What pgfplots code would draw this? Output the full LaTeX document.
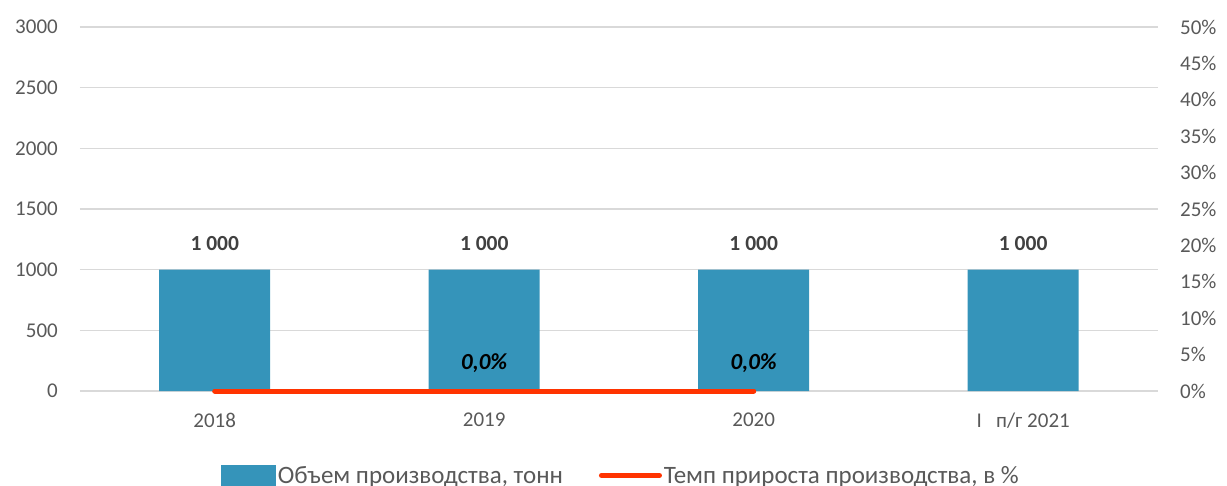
\documentclass[border=0pt]{standalone}
\usepackage{pgfplots}
\pgfplotsset{compat=1.18}
\usepackage{fontspec}
\setmainfont{Carlito}
\definecolor{barblue}{HTML}{3594BA}
\definecolor{linered}{HTML}{FF3300}
\definecolor{ticktext}{HTML}{595959}
\definecolor{labtext}{HTML}{404040}
\definecolor{gridc}{HTML}{D9D9D9}
\begin{document}
\begin{tikzpicture}
\path[use as bounding box] (0,0) rectangle (1227pt,485pt);
\pgfplotsset{
  common/.style={
    at={(80pt,94pt)}, anchor=south west,
    scale only axis, width=1078pt, height=364pt,
    xmin=-0.5, xmax=3.5,
    axis line style={draw=none},
    major tick length=0pt,
    /pgf/number format/assume math mode=true,
    tick label style={font=\fontsize{21}{25}\selectfont, text=ticktext, inner sep=0pt},
  }
}
\begin{axis}[common,
  ymin=0, ymax=3000, ytick={0,500,...,3000},
  ymajorgrids, grid style={gridc, line width=1.5pt},
  yticklabel style={xshift=-22pt, /pgf/number format/1000 sep={}},
  xtick={0,1,2,3},
  xticklabels={2018,2019,2020,{I\ \ \ п/г 2021}},
  xticklabel style={yshift=-22pt},
  ybar, bar width=111pt, bar shift=0pt,
  nodes near coords,
  every node near coord/.append style={font=\fontsize{21.5}{25}\selectfont\bfseries, text=labtext, anchor=center, yshift=26pt, /pgf/number format/1000 sep={\ }},
]
\addplot[fill=barblue, draw=none] coordinates {(0,1000) (1,1000) (2,1000) (3,1000)};
\end{axis}
\begin{axis}[common,
  ymin=0, ymax=50, ytick={0,5,...,50},
  axis y line*=right, axis x line=none,
  yticklabel={\pgfmathprintnumber{\tick}\%},
  yticklabel style={xshift=22pt},
  clip=false,
  legend columns=2,
  legend style={draw=none, fill=none, at={(0.502,-0.232)}, anchor=center,
    font=\fontsize{25}{29}\selectfont, text=ticktext,
    /tikz/every even column/.append style={column sep=34pt},
    inner sep=0pt, cells={anchor=west}},
  nodes near coords,
  point meta=explicit symbolic,
  every node near coord/.append style={font=\fontsize{23}{27}\selectfont\bfseries\itshape, text=black, anchor=center, yshift=28pt},
]
\addlegendimage{legend image code/.code={\fill[barblue] (0pt,-10pt) rectangle (54pt,10pt);}}
\addlegendentry{Объем производства, тонн}
\addplot[linered, line width=5pt, line cap=round, mark=none,
  legend image code/.code={\draw[linered, line width=5pt, line cap=round] (0pt,0pt) -- (58pt,0pt);}]
  coordinates {(0,0)[] (1,0)[0,0\%] (2,0)[0,0\%]};
\addlegendentry{Темп прироста производства, в \%}
\end{axis}
\end{tikzpicture}
\end{document}
